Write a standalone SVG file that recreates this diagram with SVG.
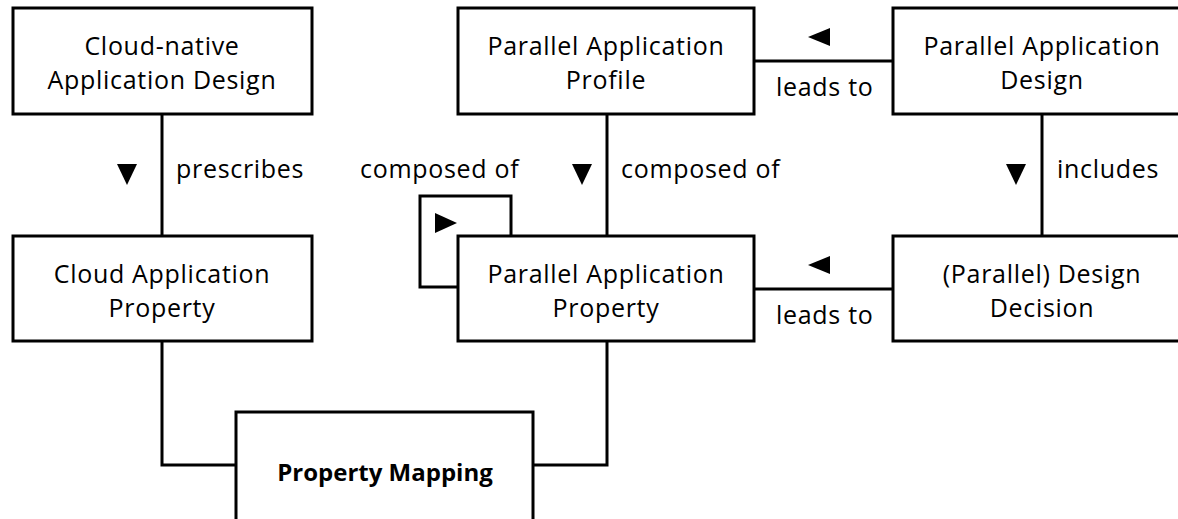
<svg xmlns="http://www.w3.org/2000/svg" width="1178" height="519" viewBox="0 0 1178 519">
<style>
.box{fill:#fff;stroke:#000;stroke-width:3}
.ln{fill:none;stroke:#000;stroke-width:3}
.t{font-family:"Open Sans","Noto Sans",sans-serif;font-size:25px;letter-spacing:0.7px;fill:#000;text-anchor:middle}
.lbl{font-family:"Open Sans","Noto Sans",sans-serif;font-size:25px;letter-spacing:0.7px;fill:#000}
.b{font-weight:bold;font-size:24px;letter-spacing:0}
.ar{fill:#000}
</style>
<rect width="1178" height="519" fill="#fff"/>
<g id="connectors">
<line class="ln" x1="162" y1="114" x2="162" y2="236"/>
<line class="ln" x1="607" y1="114" x2="607" y2="236"/>
<line class="ln" x1="1042" y1="114" x2="1042" y2="236"/>
<line class="ln" x1="754" y1="61" x2="893" y2="61"/>
<line class="ln" x1="754" y1="289" x2="893" y2="289"/>
<polyline class="ln" points="511,236 511,196 420,196 420,287 458,287"/>
<polyline class="ln" points="162,341 162,465 236,465"/>
<polyline class="ln" points="607,341 607,465 533,465"/>
<polygon class="ar" points="117,164 137,164 127,185"/>
<polygon class="ar" points="572,164 592,164 582,185"/>
<polygon class="ar" points="1006,164 1026,164 1016,185"/>
<polygon class="ar" points="830,28 830,46 808,37"/>
<polygon class="ar" points="830,256 830,274 808,265"/>
<polygon class="ar" points="435,213 435,233 457,223"/>
<text class="lbl" x="176" y="178">prescribes</text>
<text class="lbl" x="621" y="178">composed of</text>
<text class="lbl" x="1057" y="178">includes</text>
<text class="lbl" x="360" y="178">composed of</text>
<text class="lbl" x="776" y="96">leads to</text>
<text class="lbl" x="776" y="324">leads to</text>
</g>
<g id="n1"><rect class="box" x="13" y="8" width="299" height="106"/>
<text class="t" x="162" y="55">Cloud-native</text><text class="t" x="162" y="89">Application Design</text></g>
<g id="n2"><rect class="box" x="458" y="8" width="296" height="106"/>
<text class="t" x="606" y="55">Parallel Application</text><text class="t" x="606" y="89">Profile</text></g>
<g id="n3"><rect class="box" x="893" y="8" width="298" height="106"/>
<text class="t" x="1042" y="55">Parallel Application</text><text class="t" x="1042" y="89">Design</text></g>
<g id="n4"><rect class="box" x="13" y="236" width="299" height="105"/>
<text class="t" x="162" y="283">Cloud Application</text><text class="t" x="162" y="317">Property</text></g>
<g id="n5"><rect class="box" x="458" y="236" width="296" height="105"/>
<text class="t" x="606" y="283">Parallel Application</text><text class="t" x="606" y="317">Property</text></g>
<g id="n6"><rect class="box" x="893" y="236" width="298" height="105"/>
<text class="t" x="1042" y="283">(Parallel) Design</text><text class="t" x="1042" y="317">Decision</text></g>
<g id="n7"><rect class="box" x="236" y="412" width="297" height="120"/>
<text class="t b" x="385" y="481">Property Mapping</text></g>
</svg>
